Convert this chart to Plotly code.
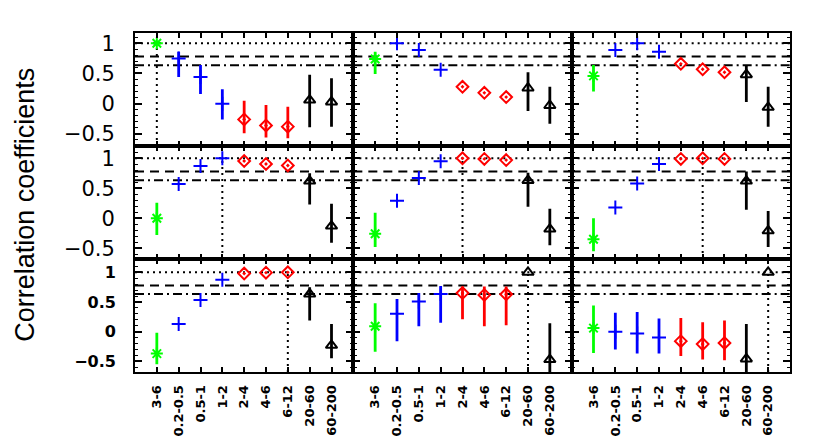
import plotly.graph_objects as go
from plotly.subplots import make_subplots

categories = ["3-6", "0.2-0.5", "0.5-1", "1-2", "2-4", "4-6", "6-12", "20-60", "60-200"]

# correlation values per panel (panel order: row by row)
values = [
    [1.00, 0.75, 0.44, 0.00, -0.26, -0.36, -0.38, 0.06, 0.03],
    [0.74, 1.00, 0.89, 0.56, 0.28, 0.18, 0.11, 0.26, -0.03],
    [0.46, 0.89, 1.00, 0.86, 0.66, 0.57, 0.52, 0.48, -0.06],
    [0.00, 0.57, 0.87, 1.00, 0.955, 0.905, 0.88, 0.62, -0.13],
    [-0.26, 0.29, 0.67, 0.95, 1.00, 0.99, 0.97, 0.63, -0.18],
    [-0.35, 0.18, 0.58, 0.905, 0.99, 1.00, 0.99, 0.62, -0.21],
    [-0.37, 0.13, 0.535, 0.875, 0.98, 0.995, 1.00, 0.635, -0.23],
    [0.09, 0.30, 0.51, 0.635, 0.65, 0.62, 0.63, 1.00, -0.47],
    [0.06, 0.00, -0.03, -0.10, -0.16, -0.21, -0.19, -0.46, 1.00],
]
# upper ends of the error bars
upper = [
    [1.00, 0.86, 0.64, 0.24, 0.05, -0.02, -0.05, 0.48, 0.42],
    [0.86, 1.00, 0.89, 0.56, 0.28, 0.18, 0.11, 0.52, 0.28],
    [0.64, 0.89, 1.00, 0.86, 0.66, 0.57, 0.52, 0.64, 0.28],
    [0.26, 0.57, 0.87, 1.00, 0.955, 0.905, 0.88, 0.75, 0.24],
    [0.09, 0.29, 0.67, 0.95, 1.00, 0.99, 0.97, 0.76, 0.16],
    [0.00, 0.18, 0.58, 0.905, 0.99, 1.00, 0.99, 0.78, 0.12],
    [-0.02, 0.13, 0.535, 0.875, 0.98, 0.995, 1.00, 0.75, 0.13],
    [0.48, 0.55, 0.65, 0.77, 0.76, 0.76, 0.76, 1.00, 0.14],
    [0.44, 0.32, 0.33, 0.22, 0.23, 0.16, 0.19, 0.13, 1.00],
]
# lower ends of the error bars
lower = [
    [1.00, 0.44, 0.16, -0.26, -0.49, -0.56, -0.57, -0.39, -0.38],
    [0.49, 1.00, 0.89, 0.56, 0.28, 0.18, 0.11, -0.12, -0.33],
    [0.20, 0.89, 1.00, 0.86, 0.66, 0.57, 0.52, 0.03, -0.38],
    [-0.28, 0.57, 0.87, 1.00, 0.955, 0.905, 0.88, 0.23, -0.41],
    [-0.48, 0.29, 0.67, 0.95, 1.00, 0.99, 0.97, 0.19, -0.45],
    [-0.55, 0.18, 0.58, 0.905, 0.99, 1.00, 0.99, 0.14, -0.48],
    [-0.55, 0.13, 0.535, 0.875, 0.98, 0.995, 1.00, 0.19, -0.45],
    [-0.34, -0.16, 0.09, 0.15, 0.21, 0.09, 0.11, 1.00, -0.80],
    [-0.36, -0.30, -0.37, -0.37, -0.41, -0.47, -0.48, -0.80, 1.00],
]

y_dotted = 1.0
y_dashed = 0.78
y_dashdot = 0.635
row_ranges = [[-0.70, 1.17], [-0.68, 1.205], [-0.68, 1.225]]

groups = [
    dict(idx=[0], color="#00ff00", symbol="asterisk-open", size=10),
    dict(idx=[1, 2, 3], color="#0000ff", symbol="cross-thin-open", size=10),
    dict(idx=[4, 5, 6], color="#ff0000", symbol="diamond-open-dot", size=9),
    dict(idx=[7, 8], color="#000000", symbol="triangle-up-open", size=10),
]

dash_styles = [(y_dotted, "2px,4px"), (y_dashed, "9px,6px"), (y_dashdot, "9px,4px,2px,4px")]

fig = make_subplots(rows=3, cols=3, horizontal_spacing=0, vertical_spacing=0)

xpos = list(range(1, len(categories) + 1))

for p in range(9):
    r, c = p // 3 + 1, p % 3 + 1
    k = "" if p == 0 else str(p + 1)
    yr = row_ranges[r - 1]
    # reference lines
    for yy, dash in dash_styles:
        fig.add_shape(type="line", xref=f"x{k} domain", yref=f"y{k}",
                      x0=0, x1=1, y0=yy, y1=yy, layer="below",
                      line=dict(color="black", width=2, dash=dash))
    fig.add_shape(type="line", xref=f"x{k}", yref=f"y{k}",
                  x0=xpos[p], x1=xpos[p], y0=yr[0], y1=1.0, layer="below",
                  line=dict(color="black", width=2, dash="2px,4px"))
    for g in groups:
        xs = [xpos[i] for i in g["idx"]]
        ys = [values[p][i] for i in g["idx"]]
        ep = [upper[p][i] - values[p][i] for i in g["idx"]]
        em = [values[p][i] - lower[p][i] for i in g["idx"]]
        fig.add_trace(go.Scatter(
            x=xs, y=ys, mode="markers", showlegend=False, cliponaxis=True,
            marker=dict(symbol=g["symbol"], size=g["size"], color=g["color"],
                        line=dict(color=g["color"], width=2)),
            error_y=dict(type="data", symmetric=False, array=ep, arrayminus=em,
                         width=0, thickness=2.8, color=g["color"]),
        ), row=r, col=c)

    fig.update_xaxes(row=r, col=c, range=[0, 10], tickvals=xpos, ticktext=categories,
                     showticklabels=(r == 3), tickangle=-90, ticks="inside", ticklen=5,
                     tickwidth=1.5, tickcolor="black", showline=True, linecolor="black",
                     linewidth=1.8, mirror="allticks", showgrid=False, zeroline=False,
                     ticklabelstandoff=6,
                     tickfont=dict(family="DejaVu Sans", size=13, color="black", weight="bold"))
    if r == 3:
        yfont = dict(family="DejaVu Sans", size=16, color="black", weight="bold")
    else:
        yfont = dict(family="DejaVu Sans", size=21, color="black")
    fig.update_yaxes(row=r, col=c, range=yr, tickvals=[-0.5, 0, 0.5, 1],
                     ticktext=["\u22120.5", "0", "0.5", "1"],
                     showticklabels=(c == 1), ticks="inside", ticklen=7, tickwidth=1.5,
                     tickcolor="black", showline=True, linecolor="black", linewidth=1.8,
                     mirror="allticks", showgrid=False, zeroline=False,
                     ticklabelstandoff=14,
                     minor=dict(dtick=0.1, tick0=0, ticks="inside", ticklen=3.5,
                                tickwidth=1.2, tickcolor="black", showgrid=False),
                     tickfont=yfont)

fig.add_annotation(text="Correlation coefficients", xref="paper", yref="paper",
                   x=-0.168, y=0.493, xanchor="center", yanchor="middle", textangle=-90,
                   showarrow=False,
                   font=dict(family="Liberation Sans Narrow, Liberation Sans", size=27,
                             color="black"))

# margins compensate for the 8px default page margin of the HTML body
fig.update_layout(width=830, height=436, plot_bgcolor="white", paper_bgcolor="white",
                  margin=dict(l=127, r=48, t=25, b=72, autoexpand=False))

fig.write_html("out.html")
